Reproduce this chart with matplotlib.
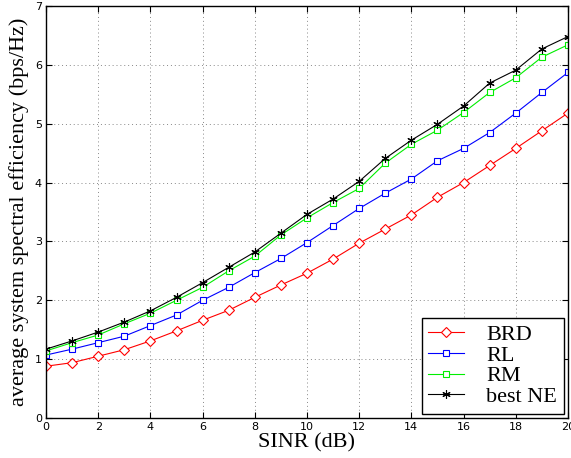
import matplotlib.pyplot as plt
import numpy as np

sinr = np.arange(0, 21)

brd = [0.88, 0.94, 1.05, 1.16, 1.31, 1.48, 1.66, 1.83, 2.05, 2.26, 2.46,
       2.70, 2.97, 3.21, 3.45, 3.75, 4.00, 4.29, 4.58, 4.88, 5.18]
rl = [1.07, 1.17, 1.28, 1.39, 1.57, 1.75, 2.00, 2.22, 2.47, 2.71, 2.98,
      3.27, 3.56, 3.82, 4.06, 4.37, 4.58, 4.85, 5.18, 5.53, 5.87]
rm = [1.14, 1.28, 1.41, 1.60, 1.78, 2.00, 2.22, 2.50, 2.75, 3.11, 3.40,
      3.66, 3.90, 4.33, 4.65, 4.89, 5.19, 5.53, 5.78, 6.13, 6.34]
best_ne = [1.17, 1.31, 1.46, 1.63, 1.82, 2.05, 2.30, 2.56, 2.82, 3.14, 3.46,
           3.72, 4.02, 4.41, 4.72, 4.99, 5.30, 5.69, 5.91, 6.27, 6.48]

fig = plt.figure(figsize=(5.71, 4.58), dpi=100)
ax = fig.add_axes([0.0806, 0.0873, 0.9141, 0.8997])

ax.plot(sinr, brd, color='red', marker='D', markersize=5, mfc='white', mew=0.8, lw=0.8, label='BRD')
ax.plot(sinr, rl, color='blue', marker='s', markersize=5, mfc='white', mew=0.8, lw=0.8, label='RL')
ax.plot(sinr, rm, color='#00ee00', marker='s', markersize=5, mfc='white', mew=0.8, lw=0.8, label='RM')
ax.plot(sinr, best_ne, color='black', marker=(6, 2, 0), markersize=6, mew=0.8, lw=0.8, label='best NE')

ax.set_xlim(0, 20)
ax.set_ylim(0, 7)
ax.set_xticks(np.arange(0, 21, 2))
ax.set_yticks(np.arange(0, 8, 1))
ax.grid(True, linestyle=(0, (1, 3)), color='#888888', linewidth=0.7)
ax.tick_params(direction='in', top=True, right=True, labelsize=8, length=4, pad=3)
for s in ax.spines.values():
    s.set_linewidth(1.0)

ax.set_xlabel('SINR (dB)', family='Liberation Serif', fontsize=16, labelpad=1)
ax.set_ylabel('average system spectral efficiency (bps/Hz)', family='Liberation Serif', fontsize=16, labelpad=4)

leg = ax.legend(loc='lower right', prop={'family': 'Liberation Serif', 'size': 16},
                fancybox=False, edgecolor='black', framealpha=1, borderaxespad=0.2,
                handlelength=1.6, handletextpad=1.0, labelspacing=0.0, borderpad=0.3)
leg.get_frame().set_linewidth(1.0)

fig.savefig('out.png', dpi=100)
